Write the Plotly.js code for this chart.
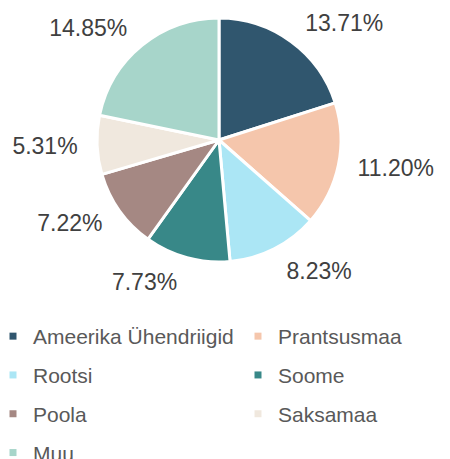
<!DOCTYPE html>
<html>
<head>
<meta charset="utf-8">
<script src="https://cdn.plot.ly/plotly-3.0.1.min.js"></script>
<style>html,body{margin:0;padding:0;background:#fff;}#chart{width:450px;height:459px;}</style>
</head>
<body>
<div id="chart"></div>
<script>
const categories = ["Ameerika Ühendriigid", "Prantsusmaa", "Rootsi", "Soome", "Poola", "Saksamaa", "Muu"];
const shares = [13.71, 11.20, 8.23, 7.73, 7.22, 5.31, 14.85];
const colors = ["#30566e", "#f5c6ac", "#abe6f5", "#388888", "#a58883", "#f0e8de", "#a7d5ca"];

const font = "'Liberation Sans', Arial, sans-serif";

// pie centre (219,140) px, radius 122 px
const pie = {
  type: "pie",
  labels: categories,
  values: shares,
  sort: false,
  direction: "clockwise",
  rotation: 0,
  marker: {colors: colors, line: {color: "#ffffff", width: 3}},
  textinfo: "none",
  automargin: false,
  showlegend: false,
  hoverinfo: "label+value",
  domain: {x: [97/450, 341/450], y: [1 - 262/459, 1 - 18/459]}
};

// same data, transparent and slightly larger, only to carry the outside value labels
const labelPie = {
  type: "pie",
  labels: categories,
  values: shares,
  sort: false,
  direction: "clockwise",
  rotation: 0,
  marker: {colors: categories.map(() => "rgba(0,0,0,0)"), line: {width: 0}},
  texttemplate: "%{value:.2f}%",
  textposition: "outside",
  outsidetextfont: {family: font, size: 23, color: "#404040"},
  automargin: false,
  showlegend: false,
  hoverinfo: "skip",
  domain: {x: [84/450, 354/450], y: [1 - 275/459, 1 - 5/459]}
};

// legend entries in two columns: even indices -> left column, odd -> right column
const legendTraces = categories.map((c, i) => ({
  type: "scatter",
  mode: "markers",
  x: [null], y: [null],
  name: c,
  legend: i % 2 === 0 ? "legend" : "legend2",
  legendgroup: "g" + i,
  marker: {symbol: "square", size: 7, color: colors[i]},
  showlegend: true,
  hoverinfo: "skip"
}));

const legendStyle = {
  orientation: "v",
  xanchor: "left", yanchor: "top",
  y: 1 - 316/459,
  tracegroupgap: 8.5,
  font: {family: font, size: 21, color: "#595959"},
  bgcolor: "rgba(0,0,0,0)",
  traceorder: "grouped"
};

const layout = {
  width: 450, height: 459,
  margin: {l: 0, r: 0, t: 0, b: 0, autoexpand: false},
  paper_bgcolor: "#ffffff",
  plot_bgcolor: "#ffffff",
  font: {family: font, color: "#595959"},
  xaxis: {visible: false, domain: [0, 0.01]},
  yaxis: {visible: false, domain: [0, 0.01]},
  showlegend: true,
  legend: Object.assign({}, legendStyle, {x: 0, indentation: -7}),
  legend2: Object.assign({}, legendStyle, {x: 238/450})
};

Plotly.newPlot("chart", [pie, labelPie].concat(legendTraces), layout, {displayModeBar: false, staticPlot: true});
</script>
</body>
</html>
